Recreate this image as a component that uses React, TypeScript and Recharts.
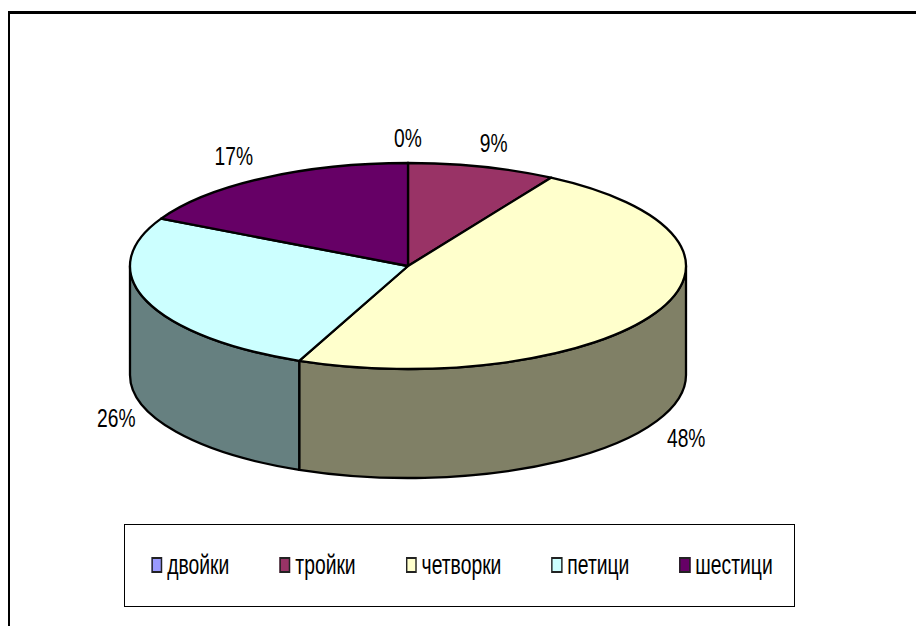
import { PieChart, Pie, Legend } from 'recharts';

const NAMES = ['двойки', 'тройки', 'четворки', 'петици', 'шестици'];
const VALUES = [0, 8.6, 47.8, 26.2, 17.4];
const COLORS = ['#9999FF', '#993366', '#FFFFCC', '#CCFFFF', '#660066'];
// hand placement of the percent labels, per slice
const LABEL_SHIFT = [[0, -1.5], [3, -1], [2, 0], [0, -5], [-13, -2]];

const data = NAMES.map((name, i) => ({ name, value: VALUES[i], fill: COLORS[i] }));

const FONT = '"Liberation Sans", Arial, sans-serif';
const CX = 408;
const CY = 266;
const RX = 278;
const SQUASH = 103 / 278; // the tilt of the disc
const DEPTH = 109;
const RAD = Math.PI / 180;
const NARROW = 0.715; // the original text is horizontally squeezed

// the side wall is the same colour at half brightness
const shade = (hex: string) =>
  '#' + [1, 3, 5].map((i) => Math.round(parseInt(hex.slice(i, i + 2), 16) / 2).toString(16).padStart(2, '0')).join('');

function Slice3D(props: any) {
  const { cx, cy, outerRadius: r, startAngle, endAngle, fill } = props;
  const ry = r * SQUASH;
  const px = (a: number) => cx + r * Math.cos(a * RAD);
  const py = (a: number) => cy - ry * Math.sin(a * RAD);
  const large = startAngle - endAngle > 180 ? 1 : 0;

  // only the front half of the disc shows a wall
  const from = Math.min(startAngle, 0);
  const to = Math.max(endAngle, -180);

  return (
    <g>
      {from > to && (
        <path
          d={`M${px(from)},${py(from)} A${r},${ry} 0 0 1 ${px(to)},${py(to)} L${px(to)},${py(to) + DEPTH} A${r},${ry} 0 0 0 ${px(from)},${py(from) + DEPTH} Z`}
          fill={shade(fill)}
          stroke="#000"
          strokeWidth={2.3}
          strokeLinejoin="round"
        />
      )}
      <path
        d={`M${cx},${cy} L${px(startAngle)},${py(startAngle)} A${r},${ry} 0 ${large} 1 ${px(endAngle)},${py(endAngle)} Z`}
        fill={fill}
        stroke="#000"
        strokeWidth={2.3}
        strokeLinejoin="round"
      />
    </g>
  );
}

function PercentLabel(props: any) {
  const { cx, cy, midAngle, percent, index } = props;
  const s = Math.sin(midAngle * RAD);
  const [dx, dy] = LABEL_SHIFT[index];
  const x = cx + 310 * Math.cos(midAngle * RAD) + dx;
  const y = cy - 127 * s + (s < 0 ? 114 : 0) + dy;
  return (
    <text
      transform={`translate(${x} ${y}) scale(0.74 1)`}
      textAnchor="middle"
      dominantBaseline="central"
      fontFamily={FONT}
      fontSize={26}
      fill="#000"
    >
      {Math.round(percent * 100)}%
    </text>
  );
}

function LegendBox({ payload }: any) {
  return (
    <div
      style={{
        display: 'flex',
        justifyContent: 'center',
        alignItems: 'center',
        gap: 50 / NARROW,
        width: `${100 / NARROW}%`,
        height: '100%',
        paddingLeft: 5 / NARROW,
        boxSizing: 'border-box',
        transform: `scaleX(${NARROW})`,
        transformOrigin: 'left center',
        fontFamily: FONT,
        fontSize: 27,
        color: '#000',
      }}
    >
      {(payload || []).map((item: any) => (
        <div key={item.value} style={{ display: 'flex', alignItems: 'center', gap: 5 / NARROW }}>
          <span style={{ width: 11 / NARROW, height: 16, boxSizing: 'border-box', background: item.color, border: '2px solid #222', marginTop: -2 }} />
          <span>{item.value}</span>
        </div>
      ))}
    </div>
  );
}

export default function App() {
  return (
    <div style={{ position: 'absolute', left: 0, top: 0, width: 916, height: 626, background: '#fff', overflow: 'hidden' }}>
      <div style={{ position: 'absolute', left: 8, top: 11, right: 0, bottom: 0, borderLeft: '2px solid #000', borderTop: '3px solid #000' }} />
      <PieChart width={916} height={626} margin={{ top: 0, right: 0, bottom: 0, left: 0 }}>
        <Pie
          data={data}
          dataKey="value"
          nameKey="name"
          cx={CX}
          cy={CY}
          innerRadius={0}
          outerRadius={RX}
          startAngle={90}
          endAngle={-270}
          stroke="#000"
          shape={Slice3D}
          label={PercentLabel}
          labelLine={false}
          isAnimationActive={false}
        />
        <Legend
          content={LegendBox}
          itemSorter={null}
          wrapperStyle={{ position: 'absolute', left: 124, top: 524, width: 671, height: 83, bottom: 'auto', border: '1px solid #000', background: '#fff', boxSizing: 'border-box', overflow: 'hidden' }}
        />
      </PieChart>
    </div>
  );
}
